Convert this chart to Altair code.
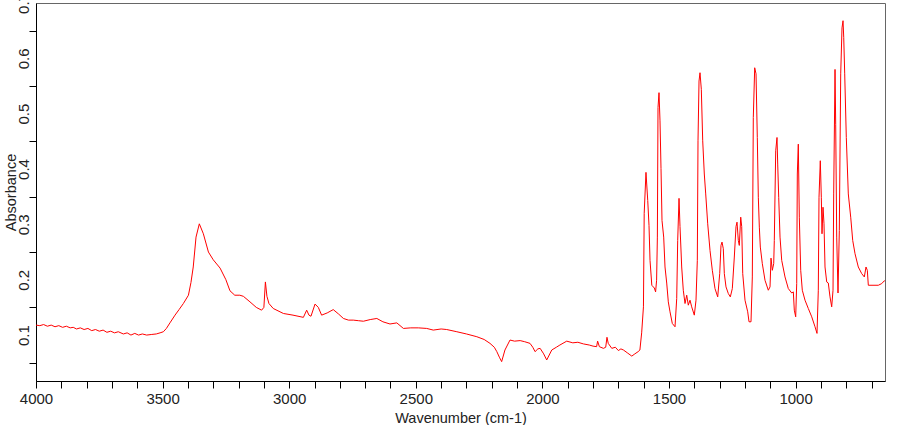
import altair as alt
import pandas as pd

# IR spectrum (wavenumber cm-1, absorbance)
wavenumber = [
    4000, 3985, 3970, 3955, 3940, 3925, 3910, 3895, 3880, 3865, 3853, 3840, 3825, 3810, 3795,
    3780, 3765, 3750, 3735, 3720, 3705, 3690, 3675, 3655, 3640, 3625, 3610, 3595, 3580, 3563,
    3545, 3525, 3510, 3497, 3485, 3471, 3451, 3435, 3418, 3398, 3388, 3379, 3368, 3355, 3339,
    3319, 3300, 3273, 3250, 3234, 3215, 3195, 3181, 3155, 3130, 3109, 3100, 3094, 3088, 3080,
    3063, 3023, 2985, 2944, 2931, 2922, 2914, 2898, 2885, 2872, 2850, 2826, 2805, 2786, 2766,
    2747, 2727, 2707, 2680, 2654, 2630, 2602, 2575, 2549, 2520, 2490, 2457, 2431, 2400, 2378,
    2338, 2300, 2259, 2230, 2207, 2190, 2180, 2170, 2161, 2148, 2128, 2110, 2088, 2070, 2049,
    2038, 2029, 2018, 2009, 1995, 1983, 1963, 1945, 1931, 1904, 1880, 1860, 1838, 1815, 1800,
    1786, 1782, 1775, 1759, 1750, 1745, 1740, 1726, 1712, 1700, 1690, 1680, 1665, 1647, 1635,
    1622, 1615, 1608, 1601, 1598, 1591, 1584, 1579, 1575, 1568, 1558, 1553, 1549, 1546, 1543.5,
    1539.5, 1535.6, 1531.6, 1527.7, 1521, 1515.8, 1509.1, 1502.8, 1496.1, 1487, 1476.3, 1469.6,
    1465.7, 1460.5, 1456.6, 1449.9, 1443.6, 1436.8, 1430.1, 1423.8, 1417.1, 1410.4, 1400.1,
    1393.4, 1388.2, 1385.5, 1381.5, 1377.6, 1372.4, 1366.9, 1360.6, 1355.1, 1347.2, 1338.1,
    1329, 1318.4, 1307.7, 1299.8, 1294.7, 1290.7, 1285.6, 1281.6, 1274.9, 1265.8, 1257.9, 1250,
    1242.1, 1235.4, 1231.5, 1226.3, 1222.4, 1216.8, 1212.9, 1208.9, 1199.9, 1189.2, 1184.1,
    1176.2, 1171, 1167.1, 1161.6, 1156.4, 1151.3, 1147.3, 1143.3, 1139.4, 1131.5, 1120.9,
    1107.9, 1101.1, 1097.2, 1092, 1086.5, 1084.2, 1078.6, 1073.5, 1070.7, 1066.8, 1061.6,
    1054.9, 1041.9, 1028.9, 1015.4, 1009.1, 1005.2, 999.7, 995.7, 993.3, 989.4, 985.4, 979.9,
    973.6, 962.9, 949.9, 936.4, 923.4, 915.5, 910.4, 907.6, 902.5, 898.5, 895.8, 891.8, 887.9,
    883.9, 877.2, 870.9, 864.2, 857.5, 852.3, 849.6, 844.4, 841.7, 837.7, 832.6, 827.4, 821.9,
    816.8, 812.8, 810, 806.1, 799.8, 791.9, 782.4, 774.5, 765.4, 752.4, 739, 728.7, 722, 716.8,
    712.9, 706.2, 673.4, 660, 649.7, 647,
]
absorbance = [
    0.118, 0.117, 0.119, 0.116, 0.118, 0.115, 0.117, 0.114, 0.116, 0.113, 0.114, 0.111, 0.113, 0.110, 0.112,
    0.108, 0.110, 0.107, 0.109, 0.105, 0.107, 0.104, 0.106, 0.102, 0.104, 0.100, 0.103, 0.100, 0.102, 0.100,
    0.101, 0.102, 0.104, 0.106, 0.112, 0.122, 0.136, 0.146, 0.157, 0.172, 0.195, 0.223, 0.277, 0.301, 0.283,
    0.250, 0.236, 0.221, 0.200, 0.180, 0.172, 0.172, 0.170, 0.160, 0.150, 0.145, 0.150, 0.196, 0.170, 0.157,
    0.148, 0.139, 0.136, 0.132, 0.145, 0.136, 0.134, 0.156, 0.150, 0.136, 0.140, 0.146, 0.138, 0.130, 0.127,
    0.127, 0.126, 0.125, 0.128, 0.130, 0.124, 0.120, 0.122, 0.112, 0.113, 0.113, 0.112, 0.109, 0.111, 0.110,
    0.106, 0.102, 0.097, 0.092, 0.085, 0.078, 0.070, 0.060, 0.052, 0.073, 0.091, 0.089, 0.090, 0.088, 0.085,
    0.078, 0.070, 0.075, 0.076, 0.066, 0.055, 0.073, 0.078, 0.082, 0.089, 0.086, 0.087, 0.084, 0.082, 0.080,
    0.079, 0.089, 0.079, 0.076, 0.078, 0.096, 0.085, 0.076, 0.078, 0.072, 0.075, 0.073, 0.068, 0.062, 0.066,
    0.070, 0.073, 0.104, 0.151, 0.320, 0.394, 0.343, 0.298, 0.235, 0.190, 0.185, 0.178, 0.199, 0.277, 0.511,
    0.538, 0.487, 0.401, 0.307, 0.277, 0.223, 0.194, 0.160, 0.142, 0.121, 0.115, 0.166,
    0.271, 0.347, 0.296, 0.223, 0.181, 0.157, 0.172, 0.154, 0.163, 0.151, 0.136,
    0.163, 0.235, 0.451, 0.559, 0.574, 0.544, 0.451, 0.391, 0.355, 0.301, 0.253,
    0.217, 0.184, 0.169, 0.211, 0.262, 0.268, 0.256, 0.211, 0.187, 0.175, 0.169, 0.184,
    0.241, 0.296, 0.304, 0.271, 0.262, 0.313, 0.296, 0.211, 0.163, 0.142, 0.124,
    0.124, 0.205, 0.493, 0.583, 0.572, 0.457, 0.349, 0.295, 0.259, 0.229, 0.199,
    0.181, 0.187, 0.239, 0.217, 0.229, 0.271, 0.433, 0.457, 0.409, 0.349, 0.277,
    0.235, 0.205, 0.184, 0.176, 0.178, 0.145, 0.133, 0.193, 0.391, 0.445, 0.313, 0.217,
    0.181, 0.163, 0.148, 0.133, 0.115, 0.103, 0.181, 0.349, 0.415, 0.349, 0.283, 0.331, 0.301,
    0.223, 0.196, 0.194, 0.169, 0.151, 0.181, 0.355, 0.580, 0.481, 0.277, 0.176, 0.289, 0.572,
    0.655, 0.668, 0.638, 0.572, 0.457, 0.355, 0.313, 0.271, 0.247, 0.223, 0.211, 0.205, 0.223, 0.217,
    0.190, 0.190, 0.190, 0.193, 0.198, 0.198,
]

x_tick_values = [700, 800, 900, 1000, 1100, 1200, 1300, 1400, 1500, 1600, 1700, 1800, 1900,
                 2000, 2100, 2200, 2300, 2400, 2500, 2600, 2700, 2800, 2900, 3000, 3100, 3200,
                 3300, 3400, 3500, 3600, 3700, 3800, 3900, 4000]
y_tick_values = [0.05, 0.1, 0.15, 0.2, 0.25, 0.3, 0.35, 0.4, 0.45, 0.5, 0.55, 0.6, 0.65, 0.7]

df = pd.DataFrame({"wn": wavenumber, "A": absorbance})

FONT = "Liberation Sans"

chart = alt.Chart(df).mark_line(color="#ff0000", strokeWidth=1).encode(
    x=alt.X(
        "wn:Q",
        scale=alt.Scale(domain=[647, 4000], reverse=True, nice=False, zero=False),
        axis=alt.Axis(
            title="Wavenumber (cm-1)",
            values=x_tick_values,
            format="d",
            labelExpr="datum.value % 500 == 0 ? datum.label : ''",
            labelFlush=False,
            labelOverlap=False,
            labelFont=FONT,
            labelFontSize=15,
            labelColor="#222222",
            labelPadding=3,
            tickSize=7,
            tickColor="#000000",
            domainColor="#000000",
            grid=False,
            titleFont=FONT,
            titleFontSize=14.5,
            titleFontWeight="normal",
            titleColor="#222222",
            titleBaseline="alphabetic",
            titleY=41,
        ),
    ),
    y=alt.Y(
        "A:Q",
        scale=alt.Scale(domain=[0.017, 0.70], nice=False, zero=False),
        axis=alt.Axis(
            title="Absorbance",
            values=y_tick_values,
            format=".1f",
            labelExpr="round(datum.value * 100) % 10 == 0 ? datum.label : ''",
            labelFlush=False,
            labelOverlap=False,
            labelAngle=270,
            labelAlign="center",
            labelBaseline="alphabetic",
            labelFont=FONT,
            labelFontSize=15,
            labelColor="#222222",
            labelPadding=1,
            tickSize=7,
            tickColor="#000000",
            tickOpacity={"condition": {"test": "round(datum.value * 100) % 10 == 0", "value": 0}, "value": 1},
            domainColor="#000000",
            grid=False,
            titleFont=FONT,
            titleFontSize=14.5,
            titleFontWeight="normal",
            titleColor="#222222",
            titleAngle=270,
            titleAlign="center",
            titleBaseline="alphabetic",
            titleX=-21,
            titleY=189,
        ),
    ),
).properties(
    width=849,
    height=378,
    autosize=alt.AutoSizeParams(type="none"),
    padding={"left": 36, "top": 3, "right": 15, "bottom": 44},
    background="white",
).configure_view(
    stroke="#666666",
    strokeWidth=1,
)

chart.save("out.html", embed_options={"renderer": "svg", "actions": False})
